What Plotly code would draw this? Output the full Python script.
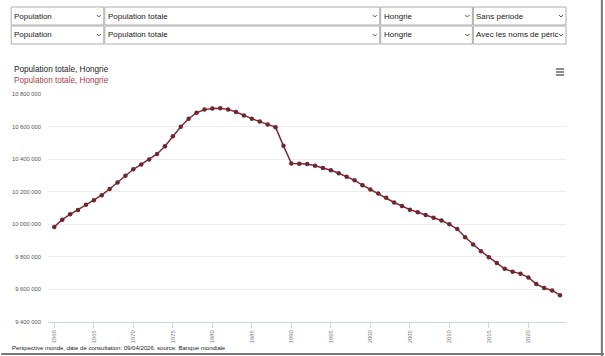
import plotly.graph_objects as go

years = list(range(1960, 2025))
population = [
    9983967, 10028612, 10061117, 10087947, 10119834, 10147935, 10178653, 10216604, 10255815, 10298723,
    10337910, 10367537, 10398489, 10432055, 10478720, 10540525, 10598677, 10648031, 10684822, 10704152,
    10711122, 10711848, 10705535, 10689463, 10668095, 10648713, 10630564, 10612741, 10596487, 10481719,
    10374000, 10372000, 10370000, 10359000, 10346000, 10332000, 10313000, 10292000, 10270000, 10240000,
    10213000, 10189000, 10163000, 10134000, 10112000, 10090000, 10074000, 10057000, 10040000, 10023000,
    10000000, 9971000, 9920000, 9876000, 9835000, 9798000, 9763000, 9727000, 9709000, 9697000,
    9674000, 9633000, 9609000, 9594000, 9565000,
]
y_tick_values = [9400000, 9600000, 9800000, 10000000, 10200000, 10400000, 10600000, 10800000]
y_tick_labels = ["9 400 000", "9 600 000", "9 800 000", "10 000 000", "10 200 000",
                 "10 400 000", "10 600 000", "10 800 000"]
x_tick_values = list(range(1960, 2025, 5))

row1 = ["Population", "Population totale", "Hongrie", "Sans période"]
row2 = ["Population", "Population totale", "Hongrie", "Avec les noms de péric"]
title_text = "Population totale, Hongrie"
series_name = "Population totale, Hongrie"
footer_text = "Perspective monde, date de consultation: 09/04/2026, source: Banque mondiale"

W, H = 605, 356


def sx(x):
    # empirical horizontal correction for the rendering
    return (x - 5.1) / 0.992


ML, MR, MT, MB = sx(47), W - sx(567), 94, 34
PW, PH = W - ML - MR, H - MT - MB


def px(x):
    return (sx(x) - ML) / PW


def py(y):
    return (H - MB - y) / PH


LINE = "#7d2d36"
FONT = "Liberation Sans, Arial, sans-serif"

fig = go.Figure()
fig.add_trace(go.Scatter(
    x=years, y=population, mode="lines+markers", name=series_name,
    line=dict(color=LINE, width=1.5),
    marker=dict(color="#6e2630", size=4.5),
))

shapes = []
annotations = []

# dropdown boxes
boxes = [(10, 103), (104, 380), (381, 473), (474, 567)]
rows = [(7, 25, row1), (26, 44, row2)]
for (y0, y1, labels) in rows:
    for (x0, x1), lab in zip(boxes, labels):
        shapes.append(dict(type="rect", xref="paper", yref="paper",
                           x0=px(x0), x1=px(x1), y0=py(y1), y1=py(y0),
                           line=dict(color="#adadad", width=1), fillcolor="white", layer="above"))
        annotations.append(dict(text=lab, xref="paper", yref="paper",
                                x=px(x0 + 1), y=py((y0 + y1) / 2), xanchor="left", yanchor="middle",
                                showarrow=False, font=dict(family=FONT, size=8, color="#222")))
        cx, cy = x1 - 5, (y0 + y1) / 2
        shapes.append(dict(type="path", xref="paper", yref="paper",
                           path=f"M {px(cx-2)} {py(cy-1)} L {px(cx)} {py(cy+1)} L {px(cx+2)} {py(cy-1)}",
                           line=dict(color="#555", width=1), layer="above"))

# page frame (right and bottom borders)
shapes.append(dict(type="line", xref="paper", yref="paper", x0=px(603), x1=px(603), y0=py(356), y1=py(0),
                   line=dict(color="#777", width=2), layer="above"))
shapes.append(dict(type="line", xref="paper", yref="paper", x0=px(0), x1=px(605), y0=py(354), y1=py(354),
                   line=dict(color="#777", width=2), layer="above"))

# hamburger menu
for yy in (69, 72, 75):
    shapes.append(dict(type="line", xref="paper", yref="paper", x0=px(557), x1=px(565), y0=py(yy), y1=py(yy),
                       line=dict(color="#666", width=1.5), layer="above"))

annotations.append(dict(text=title_text, xref="paper", yref="paper", x=px(11), y=py(70),
                        xanchor="left", yanchor="middle", showarrow=False,
                        font=dict(family=FONT, size=8.2, color="#222")))
annotations.append(dict(text=series_name, xref="paper", yref="paper", x=px(11), y=py(81),
                        xanchor="left", yanchor="middle", showarrow=False,
                        font=dict(family=FONT, size=8.2, color="#a8404a")))
annotations.append(dict(text=footer_text, xref="paper", yref="paper", x=px(9), y=py(348),
                        xanchor="left", yanchor="middle", showarrow=False,
                        font=dict(family=FONT, size=6, color="#222")))

fig.update_layout(
    width=W, height=H,
    margin=dict(l=ML, r=MR, t=MT, b=MB, pad=0),
    paper_bgcolor="white", plot_bgcolor="white",
    showlegend=False,
    shapes=shapes, annotations=annotations,
    font=dict(family=FONT),
    xaxis=dict(range=[1959.2, 2024.76], tickvals=x_tick_values, tickangle=-90,
               showgrid=False, zeroline=False, showline=True, linecolor="#ccd6eb", linewidth=1,
               ticks="outside", ticklen=5, tickcolor="#ccd6eb",
               tickfont=dict(family=FONT, size=5.8, color="#777")),
    yaxis=dict(range=[9400000, 10800000], tickvals=y_tick_values, ticktext=y_tick_labels,
               showgrid=True, gridcolor="#ececec", gridwidth=1, zeroline=False, showline=False,
               ticks="", ticklabelstandoff=6,
               tickfont=dict(family=FONT, size=5.8, color="#555")),
)

fig.write_html(
    "out.html",
    config={"displayModeBar": False},
    post_script="document.body.style.margin='0';document.body.style.overflow='hidden';",
)
